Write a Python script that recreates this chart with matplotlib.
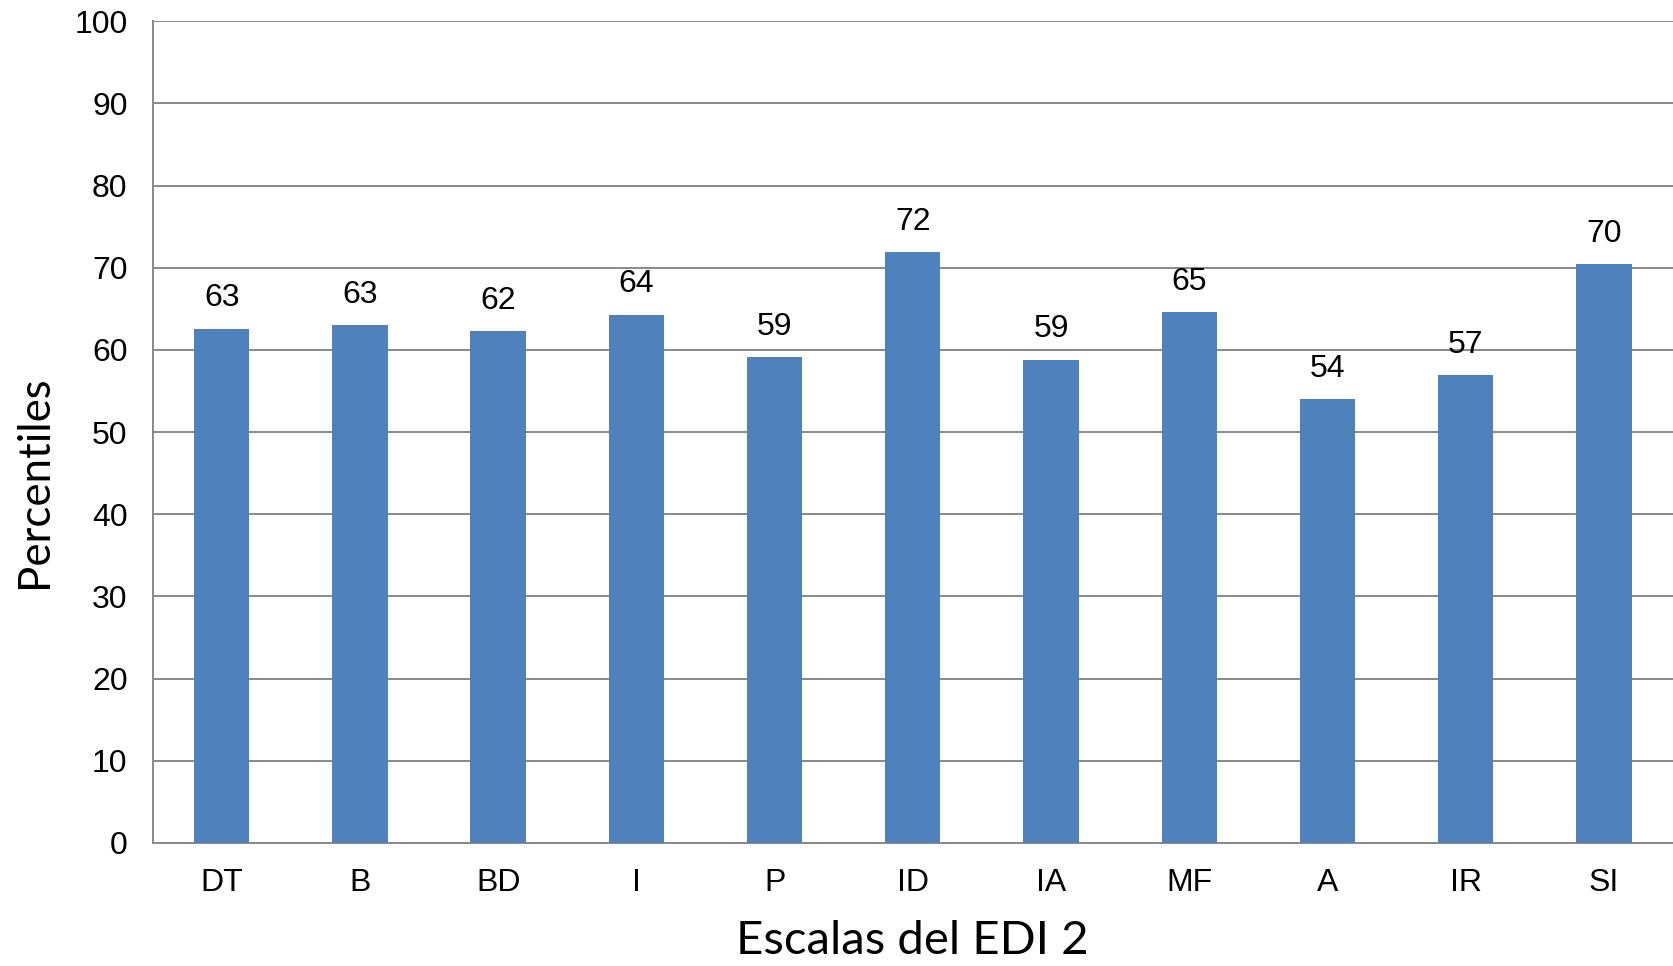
import numpy as np
import matplotlib
matplotlib.use('Agg')
import matplotlib.pyplot as plt

# EDI-2 scale percentiles
escalas = ['DT', 'B', 'BD', 'I', 'P', 'ID', 'IA', 'MF', 'A', 'IR', 'SI']
percentiles = [62.6, 63.0, 62.3, 64.3, 59.1, 71.9, 58.8, 64.6, 54.0, 56.9, 70.4]
yticks = [0, 10, 20, 30, 40, 50, 60, 70, 80, 90, 100]

bar_color = '#4F81BD'
grid_color = '#898989'

fig = plt.figure(figsize=(16.73, 9.66), dpi=100)
ax = fig.add_axes([0.0912, 0.1275, 0.9088, 0.8505])

x = np.arange(len(escalas))
bars = ax.bar(x, percentiles, width=0.40, color=bar_color, zorder=3)

for xi, v in zip(x, percentiles):
    ax.annotate('%.0f' % v, (xi, v), xytext=(0, 11), textcoords='offset points',
                ha='center', va='bottom', fontsize=23, family='Liberation Sans')

ax.set_xlim(-0.5, len(escalas) - 0.5)
ax.set_ylim(0, 100)
ax.set_yticks(yticks)
ax.set_xticks(x)
ax.set_xticklabels(escalas)
ax.tick_params(axis='both', length=0, labelsize=23)
ax.tick_params(axis='y', pad=18)
ax.tick_params(axis='x', pad=18)
for lab in ax.get_xticklabels() + ax.get_yticklabels():
    lab.set_family('Liberation Sans')

ax.yaxis.grid(True, color=grid_color, linewidth=1.4, zorder=0)
ax.set_axisbelow(True)
for side in ['top', 'right']:
    ax.spines[side].set_visible(False)
for side in ['left', 'bottom']:
    ax.spines[side].set_color(grid_color)
    ax.spines[side].set_linewidth(1.4)

ax.set_xlabel('Escalas del EDI 2', fontsize=34, family='Lato', labelpad=16)
ax.set_ylabel('Percentiles', fontsize=31.5, family='Lato')
ax.yaxis.set_label_coords(-0.064, 0.44)

fig.savefig('out.png', dpi=100)
